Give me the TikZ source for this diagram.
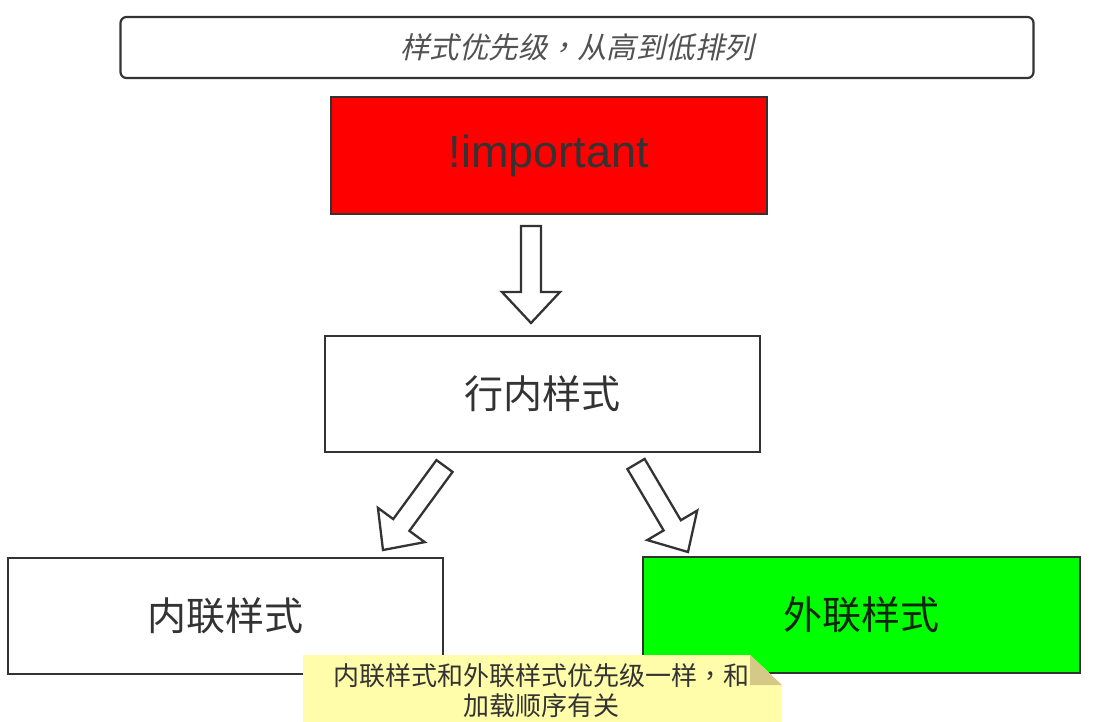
\documentclass[tikz,border=0pt]{standalone}
\usepackage{fontspec}
\setmainfont{Liberation Sans}
\newfontfamily\cjk{Noto Sans CJK SC}
\newfontfamily\cjkpunct{Noto Sans CJK TC}
\newfontfamily\cjkslant{Noto Sans CJK SC}[FakeSlant=0.22]
\newfontfamily\cjkslantpunct{Noto Sans CJK TC}[FakeSlant=0.22]
\usetikzlibrary{calc}

\definecolor{edge}{HTML}{333333}
\definecolor{ink}{HTML}{333333}
\definecolor{notefill}{HTML}{FFFCAA}
\definecolor{notefold}{HTML}{D4C987}
\definecolor{boxgreen}{HTML}{00FF00}

\tikzset{
  stagebox/.style={draw=edge, line width=2.7pt, rectangle, inner sep=0pt,
    minimum width=435pt, minimum height=116pt, text=ink,
    font=\cjk\fontsize{39}{44}\selectfont},
  hollow/.style={draw=edge, fill=white, line width=2.3pt, line join=miter},
}

% hollow block arrow from #1 (tail) to #2 (tip); #3 names the head base
\newcommand\hollowarrow[3]{%
  \coordinate (#3) at ($(#2)!31pt!(#1)$);
  \draw[hollow] ($(#1)!10pt!90:(#2)$) -- ($(#3)!10pt!90:(#2)$)
    -- ($(#3)!29pt!90:(#2)$) -- (#2) -- ($(#3)!29pt!-90:(#2)$)
    -- ($(#3)!10pt!-90:(#2)$) -- ($(#1)!10pt!-90:(#2)$) -- cycle;
}

\begin{document}
\begin{tikzpicture}[x=1pt, y=-1pt]
  \useasboundingbox[fill=white] (0,0) rectangle (1093,721);

  % heading bar
  \node[draw=edge, line width=2.2pt, rounded corners=6pt, minimum width=913pt,
        minimum height=61pt, inner sep=0pt, text=ink!85,
        font=\cjkslant\fontsize{29.5}{34}\selectfont]
    (title) at (577,47.5) {样式优先级{\cjkslantpunct ，}从高到低排列};

  % priority boxes
  \node[stagebox, fill=red, minimum width=436pt, minimum height=117pt,
        font=\fontsize{45}{50}\selectfont] (imp) at (549,155.5) {!important};
  \node[stagebox] (inline) at (542.5,394) {行内样式};
  \node[stagebox, fill=white] (internal) at (225.5,616) {内联样式};
  \node[stagebox, fill=boxgreen, minimum width=437pt, text=ink!80!green!40!black]
    (external) at (861.5,615) {外联样式};

  % arrows between the boxes
  \coordinate (a1) at (531,226);  \coordinate (b1) at (531,323);
  \coordinate (a2) at (444.5,466); \coordinate (b2) at (383,550);
  \coordinate (a3) at (636,464);  \coordinate (b3) at (688,552);
  \hollowarrow{a1}{b1}{h1}
  \hollowarrow{a2}{b2}{h2}
  \hollowarrow{a3}{b3}{h3}

  % sticky note with a folded corner
  \fill[notefill] (303,655) -- (750,655) -- (782,685) -- (782,725) -- (303,725) -- cycle;
  \fill[notefold] (750,655) -- (782,685) -- (750,685) -- cycle;
  \node[text=ink, align=center, font=\cjk\fontsize{26}{30}\selectfont]
    (note) at (541,691) {内联样式和外联样式优先级一样{\cjkpunct ，}和\\加载顺序有关};
\end{tikzpicture}
\end{document}
